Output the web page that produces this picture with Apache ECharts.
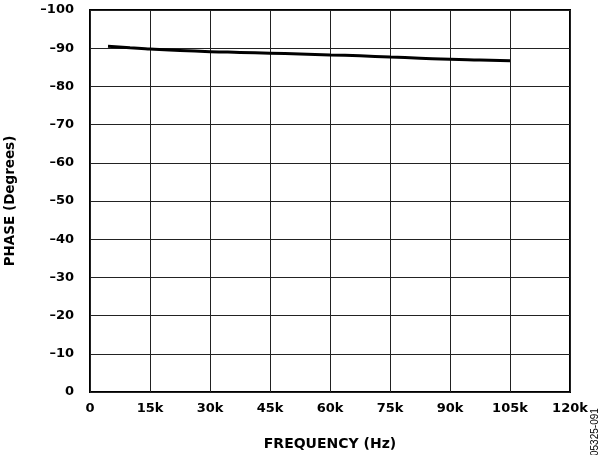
<!DOCTYPE html>
<html>
<head>
<meta charset="utf-8">
<script src="https://cdn.jsdelivr.net/npm/echarts@6/dist/echarts.min.js"></script>
<style>html,body{margin:0;padding:0;background:#fff;}#c{width:602px;height:455px;}</style>
</head>
<body>
<div id="c"></div>
<script>
var freqs = [4500, 10000, 15000, 22500, 30000, 37500, 45000, 52500, 60000, 67500, 75000, 82500, 90000, 97500, 105000];
var phases = [-90.5, -90.1, -89.8, -89.4, -89.1, -88.9, -88.7, -88.5, -88.25, -88.0, -87.7, -87.4, -87.1, -86.9, -86.7];
var xTicks = ['0', '15k', '30k', '45k', '60k', '75k', '90k', '105k', '120k'];
var yTicks = ['–100', '–90', '–80', '–70', '–60', '–50', '–40', '–30', '–20', '–10', '0'];

var chart = echarts.init(document.getElementById('c'), null, {renderer: 'canvas'});
var font = '"DejaVu Sans", sans-serif';
chart.setOption({
  animation: false,
  grid: {left: 90, right: 32, top: 10, bottom: 63, show: true, borderColor: '#000', borderWidth: 2,
    backgroundColor: 'transparent', containLabel: false, outerBoundsMode: 'none'},
  xAxis: {
    type: 'value', min: 0, max: 120000, interval: 15000,
    name: 'FREQUENCY (Hz)', nameLocation: 'middle', nameGap: 45,
    nameTextStyle: {fontFamily: font, fontWeight: 'bold', fontSize: 14, color: '#000'},
    axisLine: {show: false},
    axisTick: {show: false},
    axisLabel: {margin: 10, fontFamily: font, fontWeight: 'bold', fontSize: 13, color: '#000',
      formatter: function (v) { return xTicks[Math.round(v / 15000)]; }},
    splitLine: {show: true, lineStyle: {color: '#222', width: 1}}
  },
  yAxis: {
    type: 'value', min: -100, max: 0, interval: 10, inverse: true,
    name: 'PHASE (Degrees)', nameLocation: 'middle', nameGap: 73, nameRotate: 90,
    nameTextStyle: {fontFamily: font, fontWeight: 'bold', fontSize: 13.5, color: '#000'},
    axisLine: {show: false},
    axisTick: {show: false},
    axisLabel: {margin: 16, fontFamily: font, fontWeight: 'bold', fontSize: 13, color: '#000',
      formatter: function (v) { return yTicks[Math.round((v + 100) / 10)]; }},
    splitLine: {show: true, lineStyle: {color: '#222', width: 1}}
  },
  graphic: [{
    type: 'text', x: 590, y: 456, rotation: Math.PI / 2,
    style: {text: '05325-091', fontFamily: '"Liberation Sans", Arial, sans-serif', fontSize: 10, fill: '#000', textAlign: 'left', textVerticalAlign: 'top'}
  }],
  series: [{
    type: 'line', smooth: true, symbol: 'none',
    lineStyle: {color: '#000', width: 3},
    data: freqs.map(function (f, i) { return [f, phases[i]]; })
  }]
});
</script>
</body>
</html>
